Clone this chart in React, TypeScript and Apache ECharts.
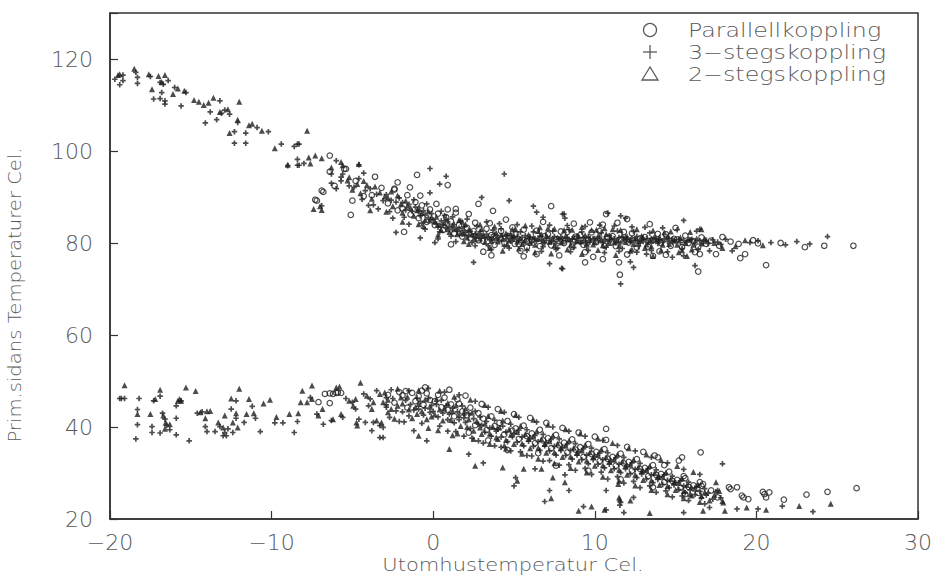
import React, { useEffect, useRef } from "react";
import * as echarts from "echarts";

const xTicks = [-20, -10, 0, 10, 20, 30];
const yTicks = [20, 40, 60, 80, 100, 120];
const xTitle = "Utomhustemperatur Cel.";
const yTitle = "Prim.sidans Temperaturer Cel.";
const seriesNames = ["Parallellkoppling", "3−stegskoppling", "2−stegskoppling"];

// Parallellkoppling (circles) – upper band
const parallelUpper: number[][] = [
  [-6.4,99.0],[-6.4,95.5],[-5.4,96.1],[-6.1,92.4],[-6.8,91.1],[-7.2,89.2],[-5.1,86.1],
  [-4.8,93.5],[-4.3,90.2],[-3.8,90.4],[-3.2,92.0],[-2.8,88.6],[-2.4,91.6],[-2.2,87.1],
  [-1.9,87.5],[-1.6,90.4],[-1.4,86.2],[-1.1,88.9],[-0.9,85.4],[-0.7,88.2],[-0.4,84.6],[-0.2,87.3],
  [0.1,83.9],[0.3,86.4],[0.6,82.8],[0.8,85.6],[0.9,87.3],[1.1,84.7],[1.3,82.1],[1.6,83.9],[1.8,81.4],[1.4,86.6],
  [2.1,83.3],[2.3,81.0],[2.6,84.4],[2.8,80.6],[2.5,82.6],[3.1,80.4],[3.3,83.1],[3.6,81.7],[3.8,79.6],[3.5,84.3],
  [4.2,82.6],[4.4,80.1],[4.7,81.5],[4.9,83.4],[5.1,81.9],[5.3,79.7],[5.6,82.9],[5.8,80.4],[5.4,78.3],[5.05,79.8],[5.8,79.1],
  [6.1,80.6],[6.4,82.7],[6.6,79.3],[6.9,81.5],[6.4,77.6],[7.1,81.9],[7.3,79.5],[7.6,80.8],[7.9,82.5],
  [8.1,80.0],[8.3,82.4],[8.6,79.2],[8.8,81.4],[9.1,81.7],[9.3,79.6],[9.6,80.6],[9.8,82.3],[9.4,78.0],
  [10.1,80.2],[10.3,82.6],[10.6,79.4],[10.8,81.2],[10.5,84.0],[11.1,81.5],[11.3,79.3],[11.6,80.8],[11.8,82.4],
  [12.1,80.1],[12.3,82.1],[12.6,79.0],[12.8,81.0],[13.1,81.3],[13.3,79.2],[13.6,80.6],[13.9,82.0],[13.6,77.2],
  [14.1,80.0],[14.4,81.9],[14.4,77.4],[14.7,79.4],[14.9,80.9],[15.1,80.8],[15.4,79.1],[15.6,81.6],[15.8,80.0],
  [16.1,80.4],[16.4,79.2],[16.6,81.2],[16.9,79.8],[16.4,73.8],[16.5,77.6],[17.2,80.5],[17.5,77.6],[17.7,79.4],[17.9,81.3],
  [18.4,80.3],[18.9,79.8],[19.0,76.7],[19.3,77.6],[19.8,80.6],[20.1,79.9],[20.6,75.2],[21.5,80.0],[23.0,79.1],[24.2,79.4],[26.0,79.4],
  [-5.5,96.1],[-1.0,94.8],[0.9,92.6],[2.8,88.5],[3.7,87.0],[7.3,88.0],[3.6,77.3],[9.7,84.5],[10.7,86.3],[12.0,85.2],
  [9.4,75.8],[10.5,76.5],[11.5,75.8],[11.55,73.1],[-7.3,89.4],[-6.9,91.4],[-1.44,92.1],[-2.4,91.8],[-5.0,89.2],[1.4,87.4],
  [0.2,88.5],[2.2,86.3],[4.5,85.1],[6.8,84.6],[8.7,84.2],[11.4,84.4],[13.4,84.1],[15.0,83.3],[1.1,79.7],[3.1,78.1],
  [5.6,77.1],[7.8,77.3],[9.9,77.0],[12.0,77.5],[14.0,78.2],[16.2,78.0],[-3.6,94.4],[-2.2,93.2],[-0.8,90.3],[-1.8,82.4]
];

// Parallellkoppling (circles) – lower band
const parallelLower: number[][] = [
  [-7.1,45.4],[-6.7,47.2],[-6.4,45.2],[-6.4,47.3],[-6.2,47.2],[-6.0,47.4],[-5.9,47.5],[-5.7,47.4],
  [-2.8,47.0],[-2.4,45.3],[-2.1,47.6],[-1.9,46.9],[-1.6,44.2],[-1.3,47.4],[-1.1,45.6],[-1.7,47.8],
  [-0.9,46.7],[-0.6,44.8],[-0.4,47.3],[-0.2,45.9],[-0.7,47.9],[0.1,45.6],[0.3,47.0],[0.5,44.3],[0.7,46.4],[0.9,43.7],
  [1.1,44.9],[1.3,42.3],[1.5,46.0],[1.8,43.4],[1.6,45.1],[2.1,42.6],[2.3,44.2],[2.6,40.4],[2.8,43.0],
  [3.1,41.8],[3.3,39.3],[3.6,42.3],[3.8,40.2],[3.4,37.1],[4.1,40.9],[4.4,38.4],[4.6,41.3],[4.9,39.2],
  [5.1,39.7],[5.3,37.4],[5.6,40.3],[5.8,38.0],[6.1,38.6],[6.3,36.5],[6.6,39.4],[6.8,37.1],[6.5,34.3],
  [7.1,37.6],[7.3,35.4],[7.6,38.3],[7.8,36.0],[8.1,36.6],[8.3,34.5],[8.6,37.3],[8.8,35.1],
  [9.1,35.6],[9.3,33.5],[9.6,36.3],[9.8,34.1],[10.1,34.6],[10.3,32.6],[10.6,35.2],[10.8,33.1],
  [11.1,33.5],[11.3,31.6],[11.6,34.2],[11.8,32.1],[12.1,32.4],[12.3,30.5],[12.6,33.0],[12.8,30.9],
  [13.1,31.1],[13.3,29.3],[13.6,31.7],[13.8,29.6],[14.1,29.8],[14.3,28.0],[14.6,30.3],[14.8,28.3],
  [15.1,28.5],[15.3,26.8],[15.6,28.9],[15.8,27.0],[16.1,27.3],[16.4,25.7],[16.7,27.6],[17.2,26.2],[17.6,24.7],
  [10.7,39.6],[10.7,37.2],[16.55,34.5],[15.2,32.7],[15.4,33.4],[13.7,33.8],[13.9,33.4],[15.5,29.3],[16.5,28.0],[16.6,27.2],
  [18.3,26.9],[18.4,26.5],[18.8,26.9],[19.1,25.1],[19.2,24.7],[19.5,24.3],[20.4,25.9],[20.5,25.4],[20.8,25.8],[20.6,24.7],
  [21.7,24.2],[23.1,25.3],[24.4,25.9],[26.2,26.7],
  [-0.5,48.6],[1.0,48.1],[2.0,46.8],[3.0,45.0],[4.0,43.9],[5.0,42.8],[6.0,42.0],[7.0,40.9],[8.0,39.8],[9.0,38.8],
  [10.0,37.9],[12.0,35.7],[13.0,34.6],[14.3,31.7],[2.2,38.8],[4.6,35.0],[7.6,31.6],[9.6,30.5],[11.6,28.6],[13.6,26.9],[15.6,25.4]
];

// 3-stegskoppling (plus) – upper band
const threeStepUpper: number[][] = [
  [-19.2,116.5],[-19.7,115.6],[-19.4,114.4],[-19.2,115.3],[-18.4,117.1],[-18.3,116.0],[-18.3,114.7],[-17.5,116.2],
  [-17.3,111.3],[-16.9,114.9],[-16.7,114.5],[-16.8,112.7],[-16.9,111.4],[-16.6,110.9],[-16.6,110.2],[-16.4,115.3],
  [-16.0,113.8],[-15.3,112.7],[-15.6,109.8],[-14.1,106.1],[-13.8,108.5],[-13.4,106.8],[-13.2,110.9],[-13.1,108.2],
  [-12.9,108.9],[-12.6,108.0],[-12.1,106.2],[-12.3,104.2],[-12.3,101.7],[-11.6,101.7],[-11.6,103.9],[-10.9,105.1],
  [-10.2,104.2],[-9.4,101.5],[-8.6,101.0],[-8.4,101.5],[-8.3,101.5],[-9.0,96.8],[-8.4,96.9],[-8.3,96.9],[-8.0,97.3],
  [-8.4,98.2],[-6.3,95.0],[-5.6,95.0],[-5.7,94.3],[-6.3,93.0],[-6.0,91.8],[-5.7,93.5],[-5.2,92.4],[-6.9,88.1],
  [-4.9,92.1],[-4.6,94.0],[-4.2,91.4],[-4.4,89.5],[-3.9,91.8],[-3.5,90.6],[-3.1,89.2],[-3.7,88.3],
  [-2.9,90.5],[-2.6,89.3],[-2.3,88.9],[-2.1,89.8],[-2.7,86.8],[-1.9,88.8],[-1.7,87.2],[-1.5,88.4],[-1.3,86.9],[-1.1,87.8],[-1.8,85.6],[-1.2,89.4],
  [-0.9,86.8],[-0.8,85.9],[-0.6,87.0],[-0.5,86.1],[-0.3,85.5],[-0.1,86.4],[-0.7,84.3],[-0.4,88.5],
  [0.0,85.0],[0.2,84.2],[0.3,83.5],[0.5,84.8],[0.6,84.0],[0.8,83.3],[0.9,84.6],[0.4,82.4],[0.7,86.0],
  [1.0,83.6],[1.2,82.9],[1.3,84.0],[1.5,82.5],[1.6,83.2],[1.8,82.7],[1.9,83.5],[1.1,81.5],[1.7,84.8],
  [2.0,82.3],[2.2,81.7],[2.3,82.6],[2.5,81.3],[2.6,82.0],[2.8,81.8],[2.9,82.5],[2.4,80.1],[2.7,83.6],
  [3.0,81.6],[3.2,81.1],[3.3,81.9],[3.5,80.7],[3.6,81.3],[3.8,81.9],[3.9,80.9],[3.4,79.4],[3.7,82.8],
  [4.0,81.2],[4.1,80.6],[4.3,81.5],[4.5,80.9],[4.6,81.7],[4.8,80.4],[4.9,81.1],[4.4,79.3],[4.2,83.1],
  [5.0,80.8],[5.2,81.4],[5.3,80.6],[5.5,81.2],[5.6,80.1],[5.7,81.6],[5.9,80.9],[5.4,82.4],
  [6.0,81.3],[6.1,80.2],[6.3,81.0],[6.4,80.4],[6.6,81.5],[6.7,80.7],[6.9,80.0],[6.2,82.4],[6.8,79.2],
  [7.0,80.6],[7.2,81.1],[7.3,80.3],[7.5,81.4],[7.6,79.9],[7.8,80.8],[7.9,81.3],[7.4,82.6],[7.7,78.9],
  [8.0,81.0],[8.2,80.5],[8.3,81.2],[8.5,80.3],[8.6,80.9],[8.8,80.1],[8.9,81.5],[8.4,82.9],[8.7,79.0],
  [9.0,80.6],[9.1,80.1],[9.3,81.1],[9.4,80.5],[9.6,81.4],[9.7,80.2],[9.9,80.9],[9.2,82.4],[9.5,79.2],
  [10.0,81.0],[10.2,80.5],[10.3,81.3],[10.5,80.1],[10.6,80.8],[10.8,80.4],[10.9,81.6],[10.4,82.2],[10.7,79.1],
  [11.0,80.5],[11.2,80.9],[11.3,80.2],[11.5,81.2],[11.6,80.0],[11.8,80.7],[11.9,81.3],[11.4,82.6],[11.7,78.8],
  [12.0,80.8],[12.2,80.3],[12.3,81.1],[12.5,80.5],[12.6,81.4],[12.8,80.0],[12.9,80.7],[12.4,82.5],[12.7,79.3],
  [13.0,80.3],[13.2,80.9],[13.3,80.1],[13.5,81.0],[13.6,80.4],[13.8,80.8],[13.9,79.9],[13.4,82.2],[13.2,77.6],
  [14.0,80.7],[14.2,80.2],[14.3,80.9],[14.5,80.4],[14.6,81.0],[14.8,80.1],[14.9,80.6],[14.8,76.9],
  [15.0,80.3],[15.2,80.8],[15.3,80.1],[15.5,80.6],[15.7,80.2],[15.9,80.7],[15.5,84.9],[15.5,77.2],
  [16.0,80.8],[16.2,80.1],[16.5,80.5],[16.7,80.0],[16.9,80.6],[16.5,83.0],[16.2,75.1],
  [17.0,79.9],[17.3,80.7],[17.1,78.3],[17.6,80.2],[17.8,79.7],
  [18.1,80.8],[18.5,78.3],[19.6,80.1],[20.1,80.5],[20.9,80.1],[21.8,79.6],[22.5,80.3],[23.3,79.8],[24.4,81.4],
  [-6.0,97.9],[-4.6,97.0],[-4.3,95.2],[-0.2,96.2],[0.8,94.5],[-0.2,90.9],[0.4,92.8],[4.4,95.0],[3.0,89.9],[4.7,89.2],
  [6.2,88.0],[6.4,86.7],[6.8,85.6],[8.0,86.3],[8.15,85.4],[11.9,85.4],[2.5,75.8],[7.2,75.5],[8.0,74.4],[11.6,71.1],
  [-2.3,82.3],[-0.8,81.1],[0.1,80.1],[10.8,86.5],[11.6,85.9],[8.1,86.3],[12.2,75.9],[12.4,74.7],[7.95,74.5],
  [0.5,86.9],[1.2,85.7],[2.1,85.2],[3.3,84.6],[4.1,84.2],[5.2,84.0],[6.1,83.7],[7.2,83.9],[8.3,83.8],[9.4,83.6],
  [10.3,83.9],[11.2,83.7],[12.3,83.5],[13.1,83.4],[14.2,83.3],[15.1,82.9],[16.3,82.6],[1.4,80.3],[2.6,79.4],[3.6,78.6],
  [4.7,78.9],[5.8,78.4],[6.7,78.2],[7.6,78.6],[8.5,78.1],[9.6,78.4],[10.6,77.9],[11.5,78.2],[12.6,78.0],[13.5,78.4],
  [14.5,78.1],[15.4,78.8],[16.4,78.6],[-1.5,84.1],[-0.5,83.0],[0.3,80.9],[-2.5,85.4],[-3.4,87.4],[-4.0,88.2]
];

// 3-stegskoppling (plus) – lower band
const threeStepLower: number[][] = [
  [-19.4,46.2],[-19.3,46.2],[-19.1,46.2],[-18.2,46.2],[-18.3,43.8],[-18.4,37.4],[-18.3,40.5],[-17.4,40.1],[-17.4,38.8],
  [-17.3,45.7],[-16.9,46.7],[-16.9,38.7],[-16.75,43.0],[-16.6,41.7],[-16.5,40.3],[-16.3,39.4],[-15.9,41.9],[-15.9,44.6],
  [-15.6,45.7],[-15.9,38.3],[-15.1,37.0],[-14.6,43.0],[-14.3,43.3],[-14.1,40.1],[-14.0,39.0],[-13.5,39.0],[-13.2,40.1],
  [-12.9,38.8],[-13.0,38.1],[-12.8,38.1],[-12.7,39.6],[-12.5,43.9],[-12.2,45.7],[-12.2,41.9],[-12.4,38.8],[-11.7,41.0],
  [-11.2,44.5],[-11.0,41.9],[-10.7,39.0],[-9.8,40.9],[-9.3,40.9],[-8.6,38.8],[-8.4,41.2],[-7.6,46.4],[-7.2,42.8],
  [-6.8,40.6],[-6.3,41.4],[-5.6,42.1],[-5.4,46.2],[-5.0,45.4],[-4.8,43.9],[-4.6,41.7],[-4.3,47.2],[-3.9,46.1],
  [-4.0,44.6],[-4.2,41.0],[-3.7,41.0],[-3.3,40.3],[-3.1,39.9],[-3.8,39.2],[-3.3,37.7],[-3.1,37.7],[-3.5,47.9],[-2.9,46.4],[-2.9,44.3],
  [-2.9,44.8],[-2.7,42.1],[-2.5,46.2],[-2.3,43.5],[-2.1,41.2],[-2.6,48.1],
  [-1.9,43.3],[-1.7,45.8],[-1.5,42.4],[-1.4,44.9],[-1.2,43.7],[-1.0,46.3],[-1.8,41.1],
  [-0.9,43.9],[-0.8,45.6],[-0.6,42.6],[-0.5,44.1],[-0.3,46.2],[-0.2,43.2],[-0.1,44.7],[-0.7,40.8],
  [0.0,43.4],[0.2,44.9],[0.3,42.2],[0.5,45.8],[0.6,43.0],[0.8,44.6],[0.9,41.6],[0.4,40.2],
  [1.0,42.8],[1.2,44.1],[1.3,40.9],[1.5,43.3],[1.6,41.6],[1.8,44.6],[1.9,42.0],[1.4,39.0],
  [2.0,41.0],[2.2,42.9],[2.3,39.7],[2.5,41.8],[2.6,43.4],[2.8,40.6],[2.9,42.2],[2.4,37.6],
  [3.0,40.4],[3.2,38.9],[3.3,41.2],[3.5,39.8],[3.6,38.0],[3.8,41.5],[3.9,39.1],[3.1,36.5],
  [4.0,39.5],[4.2,37.8],[4.3,40.2],[4.5,38.9],[4.6,36.8],[4.8,40.6],[4.9,37.9],[4.2,35.6],
  [5.0,38.6],[5.2,36.7],[5.3,39.3],[5.5,37.8],[5.6,35.9],[5.8,39.4],[5.9,36.9],[5.4,34.6],
  [6.0,37.6],[6.2,35.8],[6.3,38.2],[6.5,36.8],[6.6,34.9],[6.8,38.4],[6.9,35.9],[6.1,33.7],
  [7.0,36.6],[7.2,34.8],[7.3,37.3],[7.5,35.8],[7.6,33.9],[7.8,37.4],[7.9,34.9],[7.2,32.7],
  [8.0,35.6],[8.2,33.8],[8.3,36.3],[8.5,34.9],[8.6,33.0],[8.8,36.4],[8.9,33.9],[8.4,31.8],
  [9.0,34.6],[9.2,32.9],[9.3,35.3],[9.5,33.9],[9.6,32.0],[9.8,35.4],[9.9,32.9],[9.4,31.0],
  [10.0,33.6],[10.2,31.9],[10.3,34.3],[10.5,32.9],[10.6,31.1],[10.8,34.4],[10.9,31.9],[10.4,30.2],
  [11.0,32.6],[11.2,30.9],[11.3,33.3],[11.5,31.9],[11.6,30.1],[11.8,33.4],[11.9,30.9],[11.4,29.2],
  [12.0,31.5],[12.2,29.8],[12.3,32.2],[12.5,30.8],[12.6,29.0],[12.8,32.1],[12.9,29.8],[12.4,28.2],
  [13.0,30.3],[13.2,28.7],[13.3,30.9],[13.5,29.6],[13.6,27.9],[13.8,30.7],[13.9,28.6],[13.4,27.2],
  [14.0,29.1],[14.2,27.5],[14.3,29.6],[14.5,28.4],[14.6,26.8],[14.8,29.3],[14.9,27.4],[14.4,26.1],
  [15.0,27.9],[15.2,26.4],[15.3,28.3],[15.5,27.2],[15.6,25.7],[15.8,28.0],[15.9,26.3],[15.4,25.0],
  [16.0,26.7],[16.2,25.3],[16.3,27.1],[16.5,26.0],[16.6,24.6],[16.8,26.6],[16.9,25.2],
  [17.0,25.6],[17.3,24.3],[17.5,25.9],[17.8,24.6],
  [-1.2,39.2],[-0.4,37.0],[2.2,34.1],[3.1,32.2],[5.1,29.0],[5.0,27.2],[6.3,30.9],[6.9,23.8],[7.2,26.2],[8.15,29.6],
  [8.4,26.2],[9.3,22.7],[10.7,22.0],[11.55,23.0],[17.9,32.0],[17.6,26.2],[18.8,22.2],[20.1,22.2],[21.6,22.8],[23.5,21.6],
  [10.7,26.2],[11.6,23.6],[12.4,24.7],[11.8,21.4],[15.5,21.4],[17.1,22.5],
  [-1.5,47.9],[-0.3,48.4],[0.7,47.6],[1.6,47.0],[2.6,45.6],[3.4,44.3],[4.4,43.2],[5.3,42.1],[6.4,41.1],[7.4,40.0],
  [8.4,39.1],[9.4,38.0],[10.5,37.1],[11.4,36.0],[12.5,34.8],[13.5,33.4],[14.5,32.2],[15.5,30.8],[16.5,29.7],[0.9,39.1],
  [1.9,38.0],[2.8,37.0],[3.8,35.9],[4.8,34.8],[5.8,33.8],[6.8,32.6],[7.8,31.7],[8.8,30.6],[9.8,29.7],[10.8,28.7],
  [11.8,27.8],[12.8,26.8],[13.8,25.8],[14.8,24.8],[15.8,24.0],[16.8,23.3]
];

// 2-stegskoppling (triangles) – upper band
const twoStepUpper: number[][] = [
  [-19.5,116.5],[-19.4,116.7],[-18.5,117.9],[-17.6,116.7],[-17.4,113.4],[-17.0,116.3],[-16.8,115.0],[-16.6,116.5],
  [-16.1,112.4],[-15.8,113.6],[-15.4,113.1],[-14.8,111.1],[-14.5,110.7],[-14.2,110.0],[-13.9,110.5],[-13.6,111.6],
  [-13.2,108.5],[-12.7,109.1],[-12.0,110.7],[-12.1,106.8],[-12.6,103.9],[-11.4,105.6],[-11.2,105.9],[-10.6,104.4],
  [-9.8,100.6],[-7.8,104.4],[-7.6,97.3],[-7.7,98.6],[-7.3,99.0],[-6.9,98.4],[-6.3,96.4],[-5.7,97.6],[-5.6,96.9],
  [-5.2,94.3],[-6.9,87.2],[-7.0,88.0],[-7.4,87.4],[-9.0,97.0],[-4.6,97.2],
  [-4.7,92.8],[-4.1,92.6],[-4.5,90.8],[-3.6,92.3],[-3.3,91.0],[-3.0,90.1],[-3.8,89.6],
  [-2.8,89.9],[-2.5,88.0],[-2.2,90.3],[-2.0,88.4],[-2.6,91.2],[-1.9,86.6],[-1.6,88.1],[-1.4,87.6],[-1.2,85.9],[-1.0,87.1],[-1.7,89.2],
  [-0.9,87.6],[-0.7,86.5],[-0.5,85.0],[-0.3,86.9],[-0.2,84.9],[-0.1,85.6],[-0.6,83.7],
  [0.1,84.6],[0.2,85.7],[0.4,83.9],[0.5,82.9],[0.7,84.3],[0.9,83.0],[0.3,81.8],
  [1.0,82.4],[1.2,83.8],[1.4,83.1],[1.5,81.9],[1.7,82.2],[1.9,82.0],[1.6,85.0],
  [2.1,81.2],[2.2,82.9],[2.4,81.9],[2.6,80.8],[2.7,81.5],[2.9,81.0],[2.0,84.1],
  [3.1,81.8],[3.2,80.2],[3.4,81.4],[3.6,80.4],[3.7,81.0],[3.9,82.2],[3.0,83.0],
  [4.0,80.3],[4.2,81.8],[4.3,80.8],[4.5,82.1],[4.7,80.6],[4.8,81.9],[4.6,79.7],
  [5.0,81.6],[5.2,80.3],[5.4,81.0],[5.5,79.8],[5.7,80.7],[5.9,81.8],[5.1,83.0],
  [6.0,80.0],[6.2,81.2],[6.3,79.6],[6.5,80.9],[6.7,81.9],[6.8,80.5],[6.5,82.6],
  [7.0,81.6],[7.2,80.2],[7.4,80.9],[7.5,79.4],[7.7,81.2],[7.9,80.1],[7.1,83.2],
  [8.0,80.3],[8.2,81.6],[8.4,80.8],[8.5,79.6],[8.7,81.3],[8.9,80.4],[8.1,82.8],
  [9.0,81.5],[9.2,80.3],[9.4,81.7],[9.5,80.0],[9.7,81.0],[9.9,79.7],[9.8,82.8],
  [10.0,80.2],[10.2,81.5],[10.4,80.7],[10.5,79.5],[10.7,81.9],[10.9,80.0],[10.1,82.9],
  [11.0,81.3],[11.2,80.1],[11.4,80.6],[11.5,79.4],[11.7,81.6],[11.9,80.2],[11.1,83.0],
  [12.0,81.4],[12.2,80.6],[12.4,79.8],[12.5,81.0],[12.7,80.4],[12.9,81.5],[12.3,78.6],
  [13.0,81.2],[13.2,79.7],[13.4,80.5],[13.5,79.3],[13.7,81.4],[13.9,80.6],
  [14.0,81.3],[14.2,79.6],[14.5,81.4],[14.6,79.8],[14.8,80.8],[14.3,82.3],
  [15.1,79.6],[15.3,81.2],[15.6,80.0],[15.8,80.9],[15.4,78.4],
  [16.1,79.6],[16.3,81.0],[16.6,79.9],[16.8,80.9],[17.4,80.0],[17.9,78.9],
  [18.7,79.3],[19.3,80.6],[20.4,79.5],[13.6,77.2],[15.7,77.2],[16.6,83.0],
  [0.8,85.4],[1.8,84.6],[2.9,84.0],[3.8,83.6],[4.9,83.0],[5.7,83.8],[6.6,83.4],[7.5,83.1],[8.6,82.9],[9.2,83.5],
  [10.6,83.2],[11.6,82.8],[12.6,83.0],[13.6,82.7],[14.7,82.5],[15.9,82.4],[1.9,80.4],[2.2,79.8],[3.5,78.9],[4.3,78.3],
  [5.3,78.8],[6.3,78.0],[7.3,77.7],[8.3,78.6],[9.2,77.6],[10.2,78.5],[11.3,77.4],[12.2,78.3],[13.1,78.9],[14.1,78.4],
  [15.2,78.0],[16.0,78.6],[-0.9,84.1],[-1.9,84.6],[-2.9,86.8],[-3.9,87.1],[-4.3,93.5],[-5.3,93.6],[-5.0,91.6]
];

// 2-stegskoppling (triangles) – lower band
const twoStepLower: number[][] = [
  [-19.1,49.1],[-18.3,42.8],[-17.5,42.8],[-17.2,46.1],[-16.9,48.1],[-16.7,42.5],[-16.55,41.0],[-16.6,39.6],[-16.3,40.6],
  [-15.8,45.7],[-15.7,46.1],[-15.6,45.7],[-15.3,48.6],[-14.7,47.8],[-14.4,43.2],[-14.1,41.9],[-14.0,43.4],[-13.8,43.5],
  [-13.3,41.0],[-13.0,39.9],[-12.9,42.5],[-12.5,46.2],[-12.4,41.0],[-12.2,43.0],[-12.1,39.9],[-12.0,48.3],[-11.55,42.8],
  [-11.4,46.1],[-11.1,43.0],[-10.5,45.1],[-10.1,45.9],[-9.7,42.2],[-8.9,42.8],[-8.35,43.0],[-8.2,45.4],[-8.1,47.9],
  [-7.8,45.4],[-7.5,46.1],[-7.5,49.0],[-7.1,42.5],[-6.85,43.9],[-6.2,41.7],[-6.0,48.6],[-5.8,48.8],[-5.7,42.8],
  [-5.2,45.7],[-4.95,44.6],[-4.8,46.1],[-4.75,41.0],[-4.7,40.3],[-4.5,49.6],[-4.1,46.8],[-3.7,45.4],[-3.8,43.9],
  [-3.5,41.4],[-3.2,41.0],[-3.3,47.2],[-3.0,47.5],[-3.1,45.4],[-2.8,43.2],
  [-2.8,45.9],[-2.6,43.9],[-2.4,41.8],[-2.2,44.6],[-2.0,46.4],
  [-1.9,45.1],[-1.6,46.6],[-1.5,43.8],[-1.3,41.9],[-1.1,44.3],[-1.0,42.8],
  [-0.9,45.0],[-0.7,43.4],[-0.5,46.0],[-0.4,41.7],[-0.2,44.4],[-0.1,42.3],
  [0.1,42.7],[0.2,46.1],[0.4,43.8],[0.6,41.4],[0.7,44.0],[0.9,45.2],[0.3,39.3],
  [1.1,41.5],[1.2,43.5],[1.4,44.7],[1.6,42.6],[1.7,40.2],[1.9,43.1],[1.2,38.2],
  [2.1,40.0],[2.2,41.7],[2.4,43.1],[2.5,39.2],[2.7,41.3],[2.9,39.9],[2.0,44.0],
  [3.0,38.5],[3.2,40.7],[3.4,42.4],[3.5,38.6],[3.7,40.0],[3.9,37.7],
  [4.0,37.4],[4.1,39.9],[4.3,41.4],[4.5,37.2],[4.7,39.5],[4.8,38.3],[4.4,36.0],
  [5.0,36.3],[5.2,38.9],[5.4,40.2],[5.5,36.4],[5.7,38.5],[5.9,37.4],
  [6.0,35.4],[6.2,37.9],[6.4,39.0],[6.5,35.5],[6.7,37.4],[6.9,36.3],
  [7.0,34.4],[7.2,36.9],[7.4,38.1],[7.5,34.5],[7.7,36.4],[7.9,35.4],
  [8.0,33.5],[8.2,35.9],[8.4,37.0],[8.5,33.6],[8.7,35.5],[8.9,34.4],
  [9.0,32.5],[9.2,34.9],[9.4,36.1],[9.5,32.7],[9.7,34.5],[9.9,33.5],
  [10.0,31.6],[10.2,33.9],[10.4,35.1],[10.5,31.7],[10.7,33.5],[10.9,32.5],
  [11.0,30.6],[11.2,32.9],[11.4,34.0],[11.5,30.7],[11.7,32.5],[11.9,31.5],
  [12.0,29.6],[12.2,31.8],[12.4,32.9],[12.5,29.6],[12.7,31.3],[12.9,30.4],
  [13.0,28.5],[13.2,30.6],[13.4,31.5],[13.5,28.4],[13.7,30.0],[13.9,29.2],
  [14.0,27.4],[14.2,29.2],[14.4,30.1],[14.5,27.2],[14.7,28.7],[14.9,28.0],
  [15.0,26.3],[15.2,27.9],[15.4,28.8],[15.5,26.1],[15.7,27.4],[15.9,25.4],
  [16.0,25.1],[16.2,26.6],[16.4,27.4],[16.6,25.0],[16.8,25.8],
  [17.1,24.0],[17.4,25.2],[17.7,26.1],[17.9,23.9],
  [-0.9,38.1],[1.0,35.2],[2.6,31.6],[4.3,31.2],[5.2,28.3],[5.6,30.9],[6.7,30.9],[7.3,24.5],[7.4,29.0],[8.15,28.0],
  [9.0,21.8],[9.8,22.7],[11.55,24.3],[11.45,27.6],[17.5,28.0],[17.95,23.6],[19.4,22.5],[20.6,22.0],[22.65,22.8],[24.6,23.3],
  [11.5,24.7],[12.2,24.0],[10.6,22.0],[13.4,21.3],[16.7,21.8],[18.05,21.8],
  [-2.2,48.3],[-0.9,48.0],[0.4,47.9],[1.3,46.6],[2.3,45.9],[3.2,44.8],[4.2,43.5],[5.1,42.6],[6.2,41.6],[7.1,40.5],
  [8.2,39.5],[9.1,38.6],[10.2,37.5],[11.1,36.5],[12.1,35.4],[13.2,34.0],[14.1,32.8],[15.1,31.5],[16.1,30.2],[-0.3,39.8],
  [1.5,38.6],[2.5,37.4],[3.5,36.3],[4.5,35.3],[5.5,34.2],[6.5,33.1],[7.5,32.1],[8.5,31.1],[9.5,30.1],[10.5,29.2],
  [11.5,28.3],[12.5,27.3],[13.5,26.3],[14.5,25.4],[15.5,24.5],[16.5,23.7]
];

const ink = "#1f1f1f";
const frameColor = "#333";
const labelColor = "#5a5a5a";
const fontFamily = "'DejaVu Sans', 'Liberation Sans', sans-serif";

export default function App() {
  const ref = useRef<HTMLDivElement>(null);
  useEffect(() => {
    if (!ref.current) return;
    const chart = echarts.init(ref.current, undefined, { renderer: "svg" });
    const minus = (v: number) => (v < 0 ? "\u2212" + Math.abs(v) : String(v));
    const axisCommon = {
      axisLine: { show: true, onZero: false, lineStyle: { color: frameColor, width: 1.5 } },
      axisTick: { show: true, inside: true, length: 8, lineStyle: { color: frameColor, width: 1.2 } },
      splitLine: { show: false },
    };
    const circleStyle = { color: "rgba(0,0,0,0)", borderColor: ink, borderWidth: 1.2 };
    const plusSymbol = "path://M0,5L10,5M5,0L5,10";
    const plusStyle = { color: ink, borderColor: ink, borderWidth: 1.7 };
    const triStyle = { color: ink };
    const legendRows = [30, 52, 74];
    chart.setOption({
      animation: false,
      backgroundColor: "#fff",
      grid: {
        left: 110, right: 29, top: 13, bottom: 59,
        show: true, borderColor: frameColor, borderWidth: 1.5, backgroundColor: "#fff",
        containLabel: false, outerBoundsMode: "none",
      },
      xAxis: {
        type: "value", min: xTicks[0], max: xTicks[xTicks.length - 1], interval: 10,
        ...axisCommon,
        axisLabel: {
          margin: 12, fontSize: 22, color: labelColor, fontFamily, fontWeight: 200,
          formatter: (v: number) => (xTicks.includes(v) ? minus(v) : ""),
        },
      },
      yAxis: {
        type: "value", min: yTicks[0], max: 130, interval: 20,
        ...axisCommon,
        axisLabel: {
          margin: 17, fontSize: 22, color: labelColor, fontFamily, fontWeight: 200,
          formatter: (v: number) => (yTicks.includes(v) ? String(v) : ""),
        },
      },
      series: [
        { name: seriesNames[0], type: "scatter", symbol: "circle", symbolSize: 5.5, itemStyle: circleStyle, data: parallelUpper },
        { name: seriesNames[0], type: "scatter", symbol: "circle", symbolSize: 5.5, itemStyle: circleStyle, data: parallelLower },
        { name: seriesNames[1], type: "scatter", symbol: plusSymbol, symbolSize: 5.5, itemStyle: plusStyle, data: threeStepUpper },
        { name: seriesNames[1], type: "scatter", symbol: plusSymbol, symbolSize: 5.5, itemStyle: plusStyle, data: threeStepLower },
        { name: seriesNames[2], type: "scatter", symbol: "triangle", symbolSize: 6, itemStyle: triStyle, data: twoStepUpper },
        { name: seriesNames[2], type: "scatter", symbol: "triangle", symbolSize: 6, itemStyle: triStyle, data: twoStepLower },
      ],
      graphic: [
        {
          type: "text", x: 15, y: 295, rotation: Math.PI / 2, scaleX: 1.09,
          style: { text: yTitle, fill: labelColor, font: `200 18px ${fontFamily}`, align: "center", verticalAlign: "middle" },
        },
        {
          type: "text", x: 513, y: 565, scaleX: 1.17,
          style: { text: xTitle, fill: labelColor, font: `200 18px ${fontFamily}`, align: "center", verticalAlign: "middle" },
        },
        { type: "circle", shape: { cx: 650, cy: legendRows[0], r: 6.5 }, style: { fill: "none", stroke: labelColor, lineWidth: 1.3 } },
        { type: "line", shape: { x1: 643, y1: legendRows[1], x2: 657, y2: legendRows[1] }, style: { stroke: labelColor, lineWidth: 1.3 } },
        { type: "line", shape: { x1: 650, y1: legendRows[1] - 7, x2: 650, y2: legendRows[1] + 7 }, style: { stroke: labelColor, lineWidth: 1.3 } },
        {
          type: "polygon",
          shape: { points: [[650, legendRows[2] - 7], [642, legendRows[2] + 6], [658, legendRows[2] + 6]] },
          style: { fill: "none", stroke: labelColor, lineWidth: 1.3 },
        },
        ...seriesNames.map((name, i) => ({
          type: "text", x: 688, y: legendRows[i], scaleX: 1.25,
          style: { text: name, fill: labelColor, font: `200 19px ${fontFamily}`, align: "left", verticalAlign: "middle" },
        })),
      ],
    });
    return () => chart.dispose();
  }, []);
  return <div ref={ref} style={{ position: "fixed", left: 0, top: 0, width: 947, height: 578 }} />;
}
